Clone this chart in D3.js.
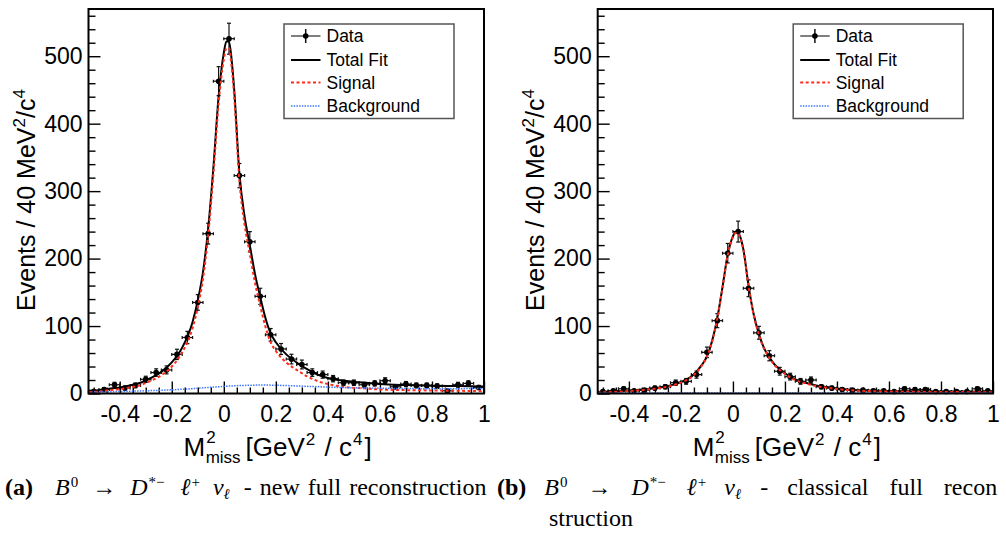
<!DOCTYPE html>
<html>
<head>
<meta charset="utf-8">
<script src="https://cdn.jsdelivr.net/npm/d3@7"></script>
<style>
  body { margin: 0; background: #fff; }
  svg { display: block; }
</style>
</head>
<body>
<script>
const width = 1006;
const height = 544;

// bin centres, 40 MeV^2 bins
const binCenters = [-0.50, -0.46, -0.42, -0.38, -0.34, -0.30, -0.26, -0.22, -0.18, -0.14, -0.10, -0.06, -0.02,
  0.02, 0.06, 0.10, 0.14, 0.18, 0.22, 0.26, 0.30, 0.34, 0.38, 0.42, 0.46, 0.50, 0.54, 0.58, 0.62, 0.66,
  0.70, 0.74, 0.78, 0.82, 0.86, 0.90, 0.94, 0.98];

const countsNew = [3, 6, 13, 8, 12, 21, 31, 35, 58, 83, 135, 237, 463,
  526, 323, 225, 144, 87, 66, 51, 43, 31, 28, 22, 16, 16, 13, 15, 19, 10,
  14, 12, 12, 11, 4, 13, 15, 9];

const countsClassic = [3, 4, 7, 4, 5, 8, 10, 16, 18, 28, 61, 108, 208,
  240, 156, 90, 56, 33, 25, 18, 20, 10, 8, 6, 5, 5, 4, 4, 3, 7,
  6, 6, 3, 3, 3, 3, 7, 4];

// fit curves
const fitX = [-0.52, -0.48, -0.44, -0.40, -0.36, -0.32, -0.28, -0.24, -0.20, -0.16, -0.12, -0.10, -0.08, -0.06,
  -0.04, -0.02, 0.00, 0.01, 0.02, 0.03, 0.04, 0.06, 0.08, 0.10, 0.12, 0.14, 0.16, 0.18, 0.20,
  0.24, 0.28, 0.32, 0.36, 0.40, 0.44, 0.48, 0.52, 0.60, 0.70, 0.80, 0.90, 1.00];

const totalNew = [4, 5, 7, 9, 12, 16, 23, 32, 46, 68, 106, 138, 180, 245,
  335, 440, 505, 522, 522, 495, 450, 326, 262, 220, 177, 143, 112, 89, 76,
  58, 46, 36, 28, 23, 20, 18, 16.5, 14, 12.5, 11.5, 11, 10.5];
const signalNew = [2, 3, 5, 6.5, 9, 12.5, 19, 27, 40, 61, 97, 128, 170, 235,
  325, 430, 495, 512, 512, 485, 440, 315, 250, 207, 164, 130, 99, 76, 63,
  46, 35, 25.5, 18.5, 14, 11, 9, 8, 6, 5, 4.5, 4, 3.5];
const bkgNew = [2, 2.3, 2.6, 3, 3.4, 3.8, 4.3, 4.8, 5.5, 6.3, 7.2, 7.8, 8.4, 9,
  9.5, 10, 10.5, 10.8, 11, 11.2, 11.4, 11.8, 12, 12.2, 12.4, 12.5, 12.5, 12.4, 12.2,
  11.8, 11.2, 10.6, 10, 9.5, 9, 8.6, 8.3, 7.8, 7.3, 7.2, 7.2, 7.5];

const totalClassic = [2, 2.8, 3.5, 4.5, 5.5, 7, 9, 12, 17, 25, 42, 55, 78, 112,
  158, 206, 233, 239, 238, 230, 214, 160, 117, 88, 67, 54, 43, 36, 30,
  21, 16, 12, 9.5, 7.5, 6, 5, 4.5, 3.8, 3.3, 3, 2.8, 2.6];
const signalClassic = [1.3, 2, 2.7, 3.7, 4.7, 6.2, 8.2, 11.2, 16.2, 24.2, 41.2, 54.2, 77, 111,
  157, 205, 232, 238, 237, 229, 213, 159, 116, 87, 66, 53, 42, 35, 29,
  20, 15, 11, 8.7, 6.7, 5.2, 4.2, 3.7, 3, 2.5, 2.2, 2, 1.8];
const bkgClassic = [0.6, 0.6, 0.6, 0.7, 0.7, 0.7, 0.7, 0.7, 0.8, 0.8, 0.8, 0.8, 0.8, 0.8,
  0.8, 0.8, 0.8, 0.8, 0.8, 0.8, 0.8, 0.8, 0.8, 0.8, 0.8, 0.8, 0.8, 0.8, 0.8,
  0.8, 0.8, 0.8, 0.8, 0.8, 0.8, 0.8, 0.8, 0.8, 0.7, 0.7, 0.7, 0.7];

const xTicks = [-0.4, -0.2, 0, 0.2, 0.4, 0.6, 0.8, 1];
const yTicks = [0, 100, 200, 300, 400, 500];
const legendLabels = ['Data', 'Total Fit', 'Signal', 'Background'];

const RED = '#ff2a1a';
const BLUE = '#3f78ff';
const FONT = '"Liberation Sans", Arial, Helvetica, sans-serif';
const SERIF = '"Liberation Serif", "DejaVu Serif", serif';

const svg = d3.select('body')
  .append('svg')
  .attr('width', width)
  .attr('height', height)
  .style('background-color', 'white');

const margin = { top: 9, bottom: 393.5 };
const binHalf = 0.02;

// one <text> made of tspans: [text, fontSize, dx, dy, italic, bold]
const richText = (x, y, family, parts) => {
  const t = svg.append('text').attr('x', x).attr('y', y).style('font-family', family);
  parts.forEach(([s, size, dx, dy, it, bold]) => {
    const ts = t.append('tspan').style('font-size', size + 'px').text(s);
    if (dx) ts.attr('dx', dx);
    if (dy) ts.attr('dy', dy);
    if (it) ts.style('font-style', 'italic');
    if (bold) ts.style('font-weight', 'bold');
  });
  return t;
};

const render = (x0, x1, counts, total, signal, bkg) => {
  const xScale = d3.scaleLinear().domain([-0.52, 1.0]).range([x0, x1]);
  const yScale = d3.scaleLinear().domain([0, 570]).range([margin.bottom, margin.top]);

  const g = svg.append('g');

  // minor ticks
  const xMinor = d3.range(-10, 21).map(i => i * 0.05)
    .filter(v => Math.abs(v / 0.2 - Math.round(v / 0.2)) > 1e-6);
  const yMinor = d3.range(1, 29).map(i => i * 20).filter(v => v % 100 !== 0);

  const xAxisMinor = d3.axisBottom(xScale).tickValues(xMinor).tickSizeInner(-6).tickSizeOuter(0).tickFormat('');
  const xAxis = d3.axisBottom(xScale).tickValues(xTicks).tickSizeInner(-12).tickSizeOuter(0)
    .tickPadding(12).tickFormat(d => String(+d.toFixed(1)));
  const yAxisMinor = d3.axisLeft(yScale).tickValues(yMinor).tickSizeInner(-7).tickSizeOuter(0).tickFormat('');
  const yAxis = d3.axisLeft(yScale).tickValues(yTicks).tickSizeInner(-12).tickSizeOuter(0).tickPadding(6);

  [xAxisMinor, xAxis].forEach(a => {
    g.append('g').attr('transform', `translate(0, ${margin.bottom})`).call(a);
  });
  [yAxisMinor, yAxis].forEach(a => {
    g.append('g').attr('transform', `translate(${x0}, 0)`).call(a);
  });
  g.selectAll('.domain').remove();
  g.selectAll('.tick line').attr('stroke', '#000').attr('stroke-width', 1.4);
  g.selectAll('.tick text')
    .style('font-family', FONT)
    .style('font-size', '23px')
    .attr('fill', '#000');

  // fit curves
  const line = vals => d3.line()
    .x((d, i) => xScale(fitX[i]))
    .y(d => yScale(d))
    .curve(d3.curveMonotoneX)(vals);

  // data points
  const pts = g.append('g').attr('stroke', '#111').attr('stroke-width', 1.2);
  const seg = (a, b, c, d) => pts.append('line').attr('x1', a).attr('y1', b).attr('x2', c).attr('y2', d);
  counts.forEach((v, i) => {
    const c = binCenters[i];
    const e = Math.sqrt(v);
    const cx = xScale(c), cy = yScale(v);
    const xl = xScale(c - binHalf), xr = xScale(c + binHalf);
    const yt = yScale(v + e), yb = yScale(v - e);
    seg(xl, cy, xr, cy);
    seg(xl, cy - 1.5, xl, cy + 1.5);
    seg(xr, cy - 1.5, xr, cy + 1.5);
    seg(cx, yt, cx, yb);
    seg(cx - 2, yt, cx + 2, yt);
    seg(cx - 2, yb, cx + 2, yb);
    pts.append('circle').attr('cx', cx).attr('cy', cy).attr('r', 2.8).attr('fill', '#000').attr('stroke', 'none');
  });

  g.append('path').attr('d', line(total))
    .attr('fill', 'none').attr('stroke', '#000').attr('stroke-width', 2);
  g.append('path').attr('d', line(signal))
    .attr('fill', 'none').attr('stroke', RED).attr('stroke-width', 2)
    .attr('stroke-dasharray', '3,2.5');
  g.append('path').attr('d', line(bkg))
    .attr('fill', 'none').attr('stroke', BLUE).attr('stroke-width', 1.5)
    .attr('stroke-dasharray', '1.5,1.2');

  // frame
  g.append('rect')
    .attr('x', x0).attr('y', margin.top)
    .attr('width', x1 - x0).attr('height', margin.bottom - margin.top)
    .attr('fill', 'none').attr('stroke', '#000').attr('stroke-width', 2);

  // legend
  const lg = g.append('g').attr('transform', `translate(${x0 + 195.5}, 24)`);
  lg.append('rect').attr('width', 170).attr('height', 94.5)
    .attr('fill', 'white').attr('stroke', '#555').attr('stroke-width', 1.5);
  const rowY = [12, 36, 58.5, 82];
  legendLabels.forEach((t, i) => {
    lg.append('text').attr('x', 42.5).attr('y', rowY[i]).attr('dy', '0.36em')
      .style('font-family', FONT).style('font-size', '17.5px').text(t);
  });
  lg.append('line').attr('x1', 7).attr('x2', 36.5).attr('y1', rowY[0]).attr('y2', rowY[0])
    .attr('stroke', '#555').attr('stroke-width', 1.5);
  lg.append('line').attr('x1', 21.7).attr('x2', 21.7).attr('y1', rowY[0] - 7).attr('y2', rowY[0] + 7)
    .attr('stroke', '#111').attr('stroke-width', 1.5);
  lg.append('circle').attr('cx', 21.7).attr('cy', rowY[0]).attr('r', 2.8);
  lg.append('line').attr('x1', 7).attr('x2', 36.5).attr('y1', rowY[1]).attr('y2', rowY[1])
    .attr('stroke', '#000').attr('stroke-width', 2);
  lg.append('line').attr('x1', 7).attr('x2', 36.5).attr('y1', rowY[2]).attr('y2', rowY[2])
    .attr('stroke', RED).attr('stroke-width', 2).attr('stroke-dasharray', '3,2.5');
  lg.append('line').attr('x1', 7).attr('x2', 36.5).attr('y1', rowY[3]).attr('y2', rowY[3])
    .attr('stroke', BLUE).attr('stroke-width', 1.5).attr('stroke-dasharray', '1.5,1.2');

  // y title
  const yt = g.append('text')
    .attr('transform', `translate(${x0 - 54}, 200) rotate(-90)`)
    .attr('text-anchor', 'middle')
    .style('font-family', FONT).style('font-size', '25px');
  yt.append('tspan').text('Events / 40 MeV');
  yt.append('tspan').attr('dy', -10).style('font-size', '17px').text('2');
  yt.append('tspan').attr('dy', 10).text('/c');
  yt.append('tspan').attr('dy', -10).style('font-size', '17px').text('4');

  // x title
  richText(x0 + 95, 456, FONT, [
    ['M', 26, 0, 0],
    ['2', 17, 1, -13],
    ['miss', 17, -10, 20],
    ['[GeV', 26, 5, -7],
    ['2', 17, 1, -11],
    [' / c', 26, 2, 11],
    ['4', 17, 1, -11],
    [']', 26, 2, 11]
  ]);
};

render(88.5, 484, countsNew, totalNew, signalNew, bkgNew);
render(597.7, 993, countsClassic, totalClassic, signalClassic, bkgClassic);

// captions
const CAP = 24;
const SUP = 15;
richText(5, 495, SERIF, [
  ['(a)', CAP, 0, 0, false, true],
  ['B', CAP, 22, 0, true],
  ['0', SUP, 1, -8],
  ['→', CAP, 14, 8],
  ['D', CAP, 14, 0, true],
  ['*−', SUP, 1, -8],
  ['ℓ', CAP, 16, 8, true],
  ['+', SUP, 1, -8],
  ['ν', CAP, 13, 8, true],
  ['ℓ', SUP, 0, 4, true],
  [' - new full reconstruction', CAP, 6, -4]
]).style('word-spacing', '2px');

richText(497, 495, SERIF, [
  ['(b)', CAP, 0, 0, false, true],
  ['B', CAP, 18, 0, true],
  ['0', SUP, 1, -8],
  ['→', CAP, 20, 8],
  ['D', CAP, 20, 0, true],
  ['*−', SUP, 1, -8],
  ['ℓ', CAP, 21, 8, true],
  ['+', SUP, 1, -8],
  ['ν', CAP, 18, 8, true],
  ['ℓ', SUP, 0, 4, true],
  ['-', CAP, 19, -4],
  ['classical', CAP, 19, 0],
  ['full', CAP, 21, 0],
  ['recon', CAP, 21, 0]
]);

richText(549, 526, SERIF, [['struction', CAP, 0, 0]]);
</script>
</body>
</html>
